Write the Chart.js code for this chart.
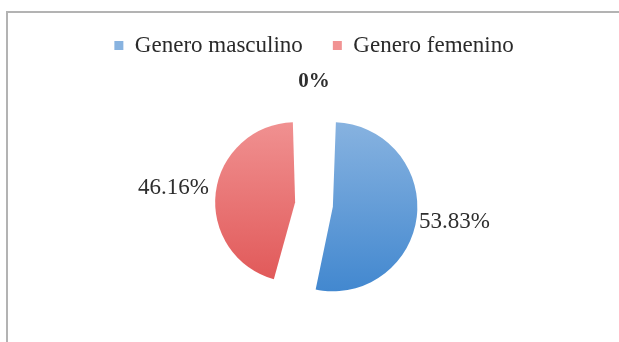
<!DOCTYPE html>
<html lang="es">
<head>
    <meta charset="UTF-8">
    <title>Genero</title>
    <script src="https://cdn.jsdelivr.net/npm/chart.js"></script>
    <style>
        body {
            margin: 0;
            background-color: #ffffff;
            overflow: hidden;
        }
        .frame {
            position: absolute;
            left: 6px;
            top: 11px;
            width: 660px;
            height: 400px;
            border: 2px solid #b3b3b3;
        }
        .wrap {
            position: absolute;
            left: 0;
            top: 0;
            width: 619px;
            height: 342px;
        }
    </style>
</head>
<body>
    <div class="frame"></div>
    <div class="wrap">
        <canvas id="genderChart" width="619" height="342"></canvas>
    </div>

    <script>
        // Data
        const categories = ['Genero masculino', 'Genero femenino', 'Sin dato'];
        const percentages = [53.83, 46.16, 0];
        const sliceColors = [['#88b3e0', '#4187cf'], ['#f19393', '#e05656']];
        const explode = [76, 76, 0];

        const FONT = "'Liberation Serif', 'Times New Roman', serif";

        // vertical gradient like the original's shaded slices
        const sliceFill = (context) => {
            const i = context.dataIndex;
            const chart = context.chart;
            const pair = sliceColors[i] || ['#999999', '#999999'];
            if (!chart.chartArea) return pair[1];
            const g = chart.ctx.createLinearGradient(0, 118, 0, 292);
            g.addColorStop(0, pair[0]);
            g.addColorStop(1, pair[1]);
            return g;
        };

        // percent labels outside each slice
        const pctLabels = {
            id: 'pctLabels',
            afterDatasetsDraw(chart) {
                const ctx = chart.ctx;
                const meta = chart.getDatasetMeta(0);
                const maxShift = Math.max(...explode) / 4;
                meta.data.forEach((arc, i) => {
                    const p = arc.getProps(['x', 'y', 'startAngle', 'endAngle', 'outerRadius'], true);
                    const mid = (p.startAngle + p.endAngle) / 2;
                    const shift = explode[i] / 4;
                    const dist = p.outerRadius + maxShift + 38;
                    const cx = p.x + Math.cos(mid) * shift;
                    const cy = p.y + Math.sin(mid) * shift;
                    const v = percentages[i];
                    ctx.save();
                    ctx.fillStyle = '#2e2e2e';
                    ctx.font = (v === 0 ? 'bold 21px ' : '23px ') + FONT;
                    ctx.textAlign = 'center';
                    ctx.textBaseline = 'middle';
                    ctx.fillText(v + '%', cx + Math.cos(mid) * dist, cy + Math.sin(mid) * dist);
                    ctx.restore();
                });
            }
        };

        new Chart(document.getElementById('genderChart'), {
            type: 'pie',
            data: {
                labels: categories,
                datasets: [{
                    data: percentages,
                    backgroundColor: sliceFill,
                    borderWidth: 0,
                    offset: explode,
                    radius: 65.5
                }]
            },
            options: {
                responsive: false,
                animation: false,
                layout: {
                    padding: { top: 4, left: 9, right: 0, bottom: 0 }
                },
                plugins: {
                    legend: {
                        position: 'top',
                        labels: {
                            boxWidth: 9,
                            boxHeight: 9,
                            padding: 30,
                            color: '#2a2a2a',
                            font: { family: FONT, size: 23 },
                            filter: (item) => percentages[item.index] > 0
                        }
                    },
                    tooltip: { enabled: false }
                }
            },
            plugins: [pctLabels]
        });
    </script>
</body>
</html>
